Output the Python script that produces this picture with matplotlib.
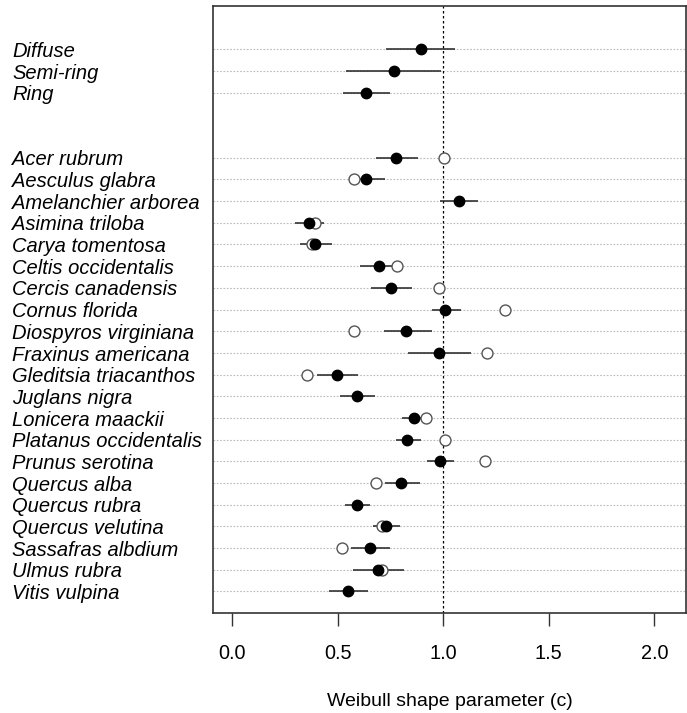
import numpy as np
import matplotlib.pyplot as plt
from matplotlib.transforms import blended_transform_factory

# wood type groups (top block)
groups = ["Diffuse", "Semi-ring", "Ring"]
group_c = [0.893, 0.765, 0.634]
group_lo = [0.730, 0.540, 0.525]
group_hi = [1.054, 0.991, 0.746]

# species (lower block)
species = ["Acer rubrum", "Aesculus glabra", "Amelanchier arborea", "Asimina triloba",
           "Carya tomentosa", "Celtis occidentalis", "Cercis canadensis", "Cornus florida",
           "Diospyros virginiana", "Fraxinus americana", "Gleditsia triacanthos",
           "Juglans nigra", "Lonicera maackii", "Platanus occidentalis", "Prunus serotina",
           "Quercus alba", "Quercus rubra", "Quercus velutina", "Sassafras albdium",
           "Ulmus rubra", "Vitis vulpina"]
species_c = [0.778, 0.634, 1.073, 0.366, 0.393, 0.694, 0.752, 1.011, 0.822, 0.981, 0.498,
             0.592, 0.861, 0.831, 0.986, 0.801, 0.590, 0.730, 0.652, 0.692, 0.548]
species_lo = [0.683, 0.554, 0.986, 0.298, 0.320, 0.606, 0.656, 0.946, 0.719, 0.834, 0.402,
              0.511, 0.806, 0.779, 0.923, 0.723, 0.533, 0.669, 0.562, 0.573, 0.459]
species_hi = [0.882, 0.726, 1.164, 0.434, 0.472, 0.790, 0.853, 1.084, 0.945, 1.134, 0.595,
              0.675, 0.924, 0.893, 1.049, 0.888, 0.653, 0.795, 0.746, 0.814, 0.644]
# second estimate (open circles); None where absent
species_open = [1.003, 0.579, None, 0.391, 0.377, 0.781, 0.980, 1.294, 0.579, 1.208, 0.355,
                None, 0.920, 1.008, 1.197, 0.680, None, 0.711, 0.522, 0.711, None]

labels = groups + species
c_all = group_c + species_c
lo_all = group_lo + species_lo
hi_all = group_hi + species_hi
open_all = [None] * len(groups) + species_open

# row positions: species 21..1, groups 26..24 (gap of two rows)
y_species = list(range(len(species), 0, -1))
y_groups = [len(species) + 5 - i for i in range(len(groups))]
y_all = y_groups + y_species

plt.rcParams['font.family'] = ['Liberation Sans', 'DejaVu Sans']

fig = plt.figure(figsize=(6.87, 7.13), dpi=100)
ax = fig.add_axes([213 / 687, 1 - 613 / 713, 473 / 687, 607 / 713])

for y in y_all:
    ax.axhline(y, color='#bbbbbb', lw=0.8, ls=(0, (1.5, 1.5)), zorder=0)
ax.axvline(1.0, color='black', lw=0.9, ls=(0, (2, 2)), zorder=1)

ax.hlines(y_all, lo_all, hi_all, color='#222222', lw=1.1, zorder=2)
oy = [y for y, v in zip(y_all, open_all) if v is not None]
ox = [v for v in open_all if v is not None]
ax.scatter(ox, oy, s=62, facecolors='white', edgecolors='#555555', linewidths=1.0, zorder=3)
ax.scatter(c_all, y_all, s=56, color='black', zorder=4)

ax.set_xlim(-0.09, 2.15)
ax.set_ylim(0, 28)
ax.set_yticks([])
ax.set_xticks([0.0, 0.5, 1.0, 1.5, 2.0])
ax.set_xticklabels(["0.0", "0.5", "1.0", "1.5", "2.0"], fontsize=14.3)
ax.tick_params(axis='x', length=9, width=1, pad=13, color='#333333')
ax.set_xlabel("Weibull shape parameter (c)", fontsize=14, labelpad=22)
for sp in ax.spines.values():
    sp.set_color('#333333')
    sp.set_linewidth(1.2)

trans = blended_transform_factory(fig.transFigure, ax.transData)
for lab, y in zip(labels, y_all):
    ax.text(12 / 687, y - 0.1, lab, transform=trans, ha='left', va='center',
            fontsize=14.5, style='italic', clip_on=False)

fig.savefig("out.png", dpi=100)
